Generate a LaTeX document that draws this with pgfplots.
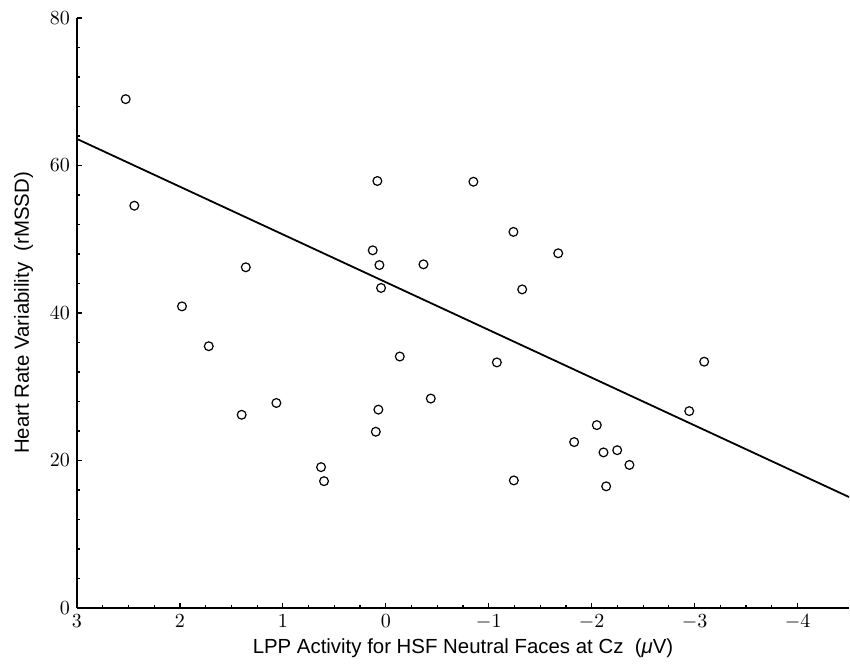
\documentclass[border=0pt]{standalone}
\usepackage{fontspec}
\setmainfont{Liberation Sans}
\usepackage{pgfplots}
\pgfplotsset{compat=1.18}

\begin{document}
\begin{tikzpicture}
\path (-38.5pt,-27.5pt) rectangle (386.5pt,304pt);
\begin{axis}[
  at={(0,0)}, anchor=south west,
  scale only axis,
  width=386pt, height=295pt,
  x dir=reverse,
  xmin=-4.5, xmax=3,
  ymin=0, ymax=80,
  axis x line*=bottom,
  axis y line*=left,
  axis line style={line width=0.9pt},
  xtick={3,2,1,0,-1,-2,-3,-4},
  ytick={0,20,40,60,80},
  minor x tick num=3,
  minor y tick num=4,
  tick align=inside,
  major tick length=2.4pt,
  minor tick length=1.6pt,
  tick style={line width=0.6pt, black},
  tick label style={font=\fontsize{10}{11}\selectfont},
  xlabel={LPP Activity for HSF Neutral Faces at Cz\ \ ({\itshape μ}V)},
  ylabel={Heart Rate Variability\ \ (rMSSD)},
  label style={font=\fontsize{10.2}{12}\selectfont},
  xlabel style={yshift=2.5pt},
  ylabel style={yshift=1.5pt},
  clip=false,
]
\addplot[only marks, mark=o, mark size=2.2pt, mark options={line width=0.6pt}] coordinates {
  (2.527,69.0) (2.443,54.55)
  (1.36,46.2) (1.98,40.9) (1.72,35.5) (1.063,27.8) (1.40,26.2) (0.629,19.1) (0.60,17.2)
  (0.082,57.9) (-0.851,57.8) (-1.24,51.0) (0.127,48.5) (-1.675,48.1) (0.062,46.5)
  (-0.366,46.6) (0.046,43.4) (-1.325,43.2)
  (-0.136,34.1) (-1.079,33.3) (-0.437,28.4) (0.072,26.9) (0.097,23.9) (-1.244,17.3)
  (-3.093,33.4) (-2.948,26.7) (-2.05,24.8) (-1.83,22.5) (-2.115,21.1) (-2.248,21.4)
  (-2.367,19.4) (-2.141,16.5)
};
\addplot[line width=0.9pt, black] coordinates {(3,63.6) (-4.5,15.05)};
\end{axis}
\end{tikzpicture}
\end{document}
